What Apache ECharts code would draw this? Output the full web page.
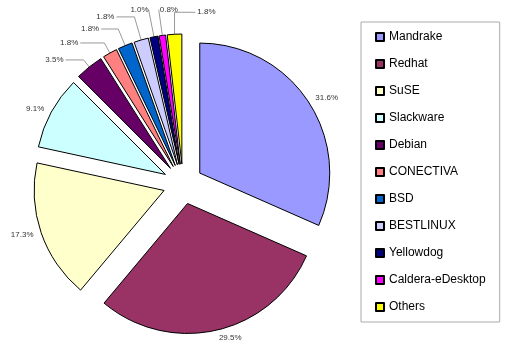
<!DOCTYPE html>
<html>
<head>
<meta charset="utf-8">
<script src="https://cdn.jsdelivr.net/npm/echarts@6/dist/echarts.min.js"></script>
<style>
  html, body { margin: 0; padding: 0; background: #fff; }
  #chart { width: 512px; height: 352px; }
</style>
</head>
<body>
<div id="chart"></div>
<script>
// distributions and their share (%)
const distros = ['Mandrake', 'Redhat', 'SuSE', 'Slackware', 'Debian', 'CONECTIVA',
  'BSD', 'BESTLINUX', 'Yellowdog', 'Caldera-eDesktop', 'Others'];
const shares = [31.6, 29.5, 17.3, 9.1, 3.5, 1.8, 1.8, 1.8, 1.0, 0.8, 1.8];
const colors = ['#9999ff', '#993366', '#ffffcc', '#ccffff', '#660066', '#ff8080',
  '#0066cc', '#ccccff', '#000080', '#ff00ff', '#ffff00'];

// leader line styling per slice (radial part, horizontal part, gap to text)
const leadLen = [8, 8, 8, 8, 9, 11.5, 18, 24, 27.5, 26, 22];
const leadLen2 = [0, 0, 0, 0, 18, 24, 17, 18, 0, 0, -22];
const leadGap = [0, 0, 0, 0, 2, 2, 2, 2, 0, -1, -2];
const textLeft = [false, false, false, false, false, false, false, false, false, true, true];

let myChart = echarts.init(document.getElementById('chart'));

let option = {
  animation: false,
  legend: {
    orient: 'vertical',
    left: 361,
    top: 22,
    padding: [8, 14, 8, 14],
    borderColor: '#aaa',
    borderWidth: 1,
    itemWidth: 8,
    itemHeight: 8,
    itemGap: 13,
    icon: 'rect',
    selectedMode: false,
    textStyle: { fontFamily: 'Liberation Sans, Arial', fontSize: 12, color: '#000', lineHeight: 14 },
    data: distros
  },
  series: [
    {
      type: 'pie',
      center: [183, 184],
      radius: 130,
      startAngle: 90,
      selectedMode: 'multiple',
      selectedOffset: 20,
      avoidLabelOverlap: false,
      emphasis: { disabled: true },
      itemStyle: { borderColor: '#000', borderWidth: 1 },
      label: {
        show: true,
        position: 'outside',
        formatter: p => p.value.toFixed(1) + '%',
        fontFamily: 'Liberation Sans, Arial',
        fontSize: 8,
        color: '#333',
        overflow: 'none'
      },
      labelLine: { lineStyle: { color: '#999', width: 1 } },
      labelLayout: params => (textLeft[params.dataIndex] ? { align: 'left' } : {}),
      data: distros.map((name, i) => ({
        name: name,
        value: shares[i],
        selected: true,
        itemStyle: { color: colors[i] },
        label: { distanceToLabelLine: leadGap[i] },
        labelLine: { show: i >= 4, length: leadLen[i], length2: leadLen2[i] }
      }))
    }
  ]
};

myChart.setOption(option);
</script>
</body>
</html>
